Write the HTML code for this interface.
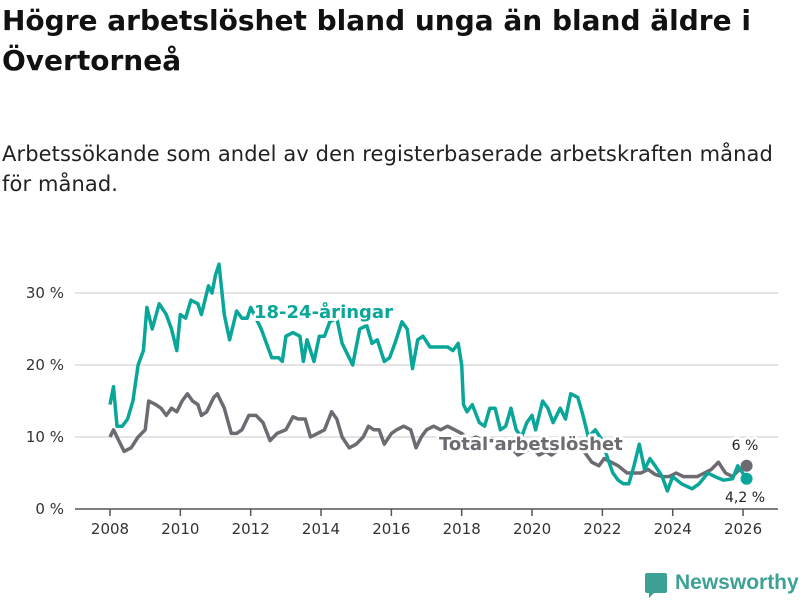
<!DOCTYPE html>
<html><head><meta charset="utf-8"><style>
body{margin:0;background:#fff;width:800px;height:600px;overflow:hidden;font-family:"DejaVu Sans","Liberation Sans",sans-serif;color:#111}
h1{position:absolute;left:2px;top:1px;margin:0;font-size:28px;line-height:40px;font-weight:bold;width:795px;letter-spacing:0px}
.sub{position:absolute;left:2px;top:139px;font-size:21px;line-height:30px;width:798px;color:#222;letter-spacing:0.1px;white-space:nowrap}
svg{position:absolute;left:0;top:0}
</style></head><body>
<h1>Högre arbetslöshet bland unga än bland äldre i Övertorneå</h1>
<div class="sub">Arbetssökande som andel av den registerbaserade arbetskraften månad<br>för månad.</div>
<svg id="c" width="800" height="600"></svg>
<script>
const yTicks=[0,10,20,30];
const yTickLabels=["0 %","10 %","20 %","30 %"];
const xTicks=[2008,2010,2012,2014,2016,2018,2020,2022,2024,2026];
const youthT=[2008.0,2008.1,2008.2,2008.35,2008.5,2008.65,2008.8,2008.95,2009.05,2009.2,2009.4,2009.6,2009.75,2009.9,2010.0,2010.15,2010.3,2010.5,2010.6,2010.8,2010.9,2011.0,2011.1,2011.25,2011.4,2011.6,2011.75,2011.9,2012.0,2012.3,2012.6,2012.8,2012.9,2013.0,2013.2,2013.4,2013.5,2013.6,2013.8,2013.95,2014.1,2014.25,2014.45,2014.6,2014.8,2014.9,2015.1,2015.3,2015.45,2015.6,2015.8,2015.95,2016.1,2016.3,2016.45,2016.6,2016.75,2016.9,2017.1,2017.4,2017.6,2017.75,2017.9,2018.0,2018.05,2018.15,2018.3,2018.5,2018.65,2018.8,2018.95,2019.1,2019.25,2019.4,2019.55,2019.7,2019.85,2020.0,2020.1,2020.3,2020.45,2020.6,2020.8,2020.95,2021.1,2021.3,2021.45,2021.6,2021.8,2022.0,2022.15,2022.3,2022.45,2022.6,2022.75,2022.9,2023.05,2023.2,2023.35,2023.5,2023.7,2023.85,2024.0,2024.25,2024.55,2024.75,2025.0,2025.2,2025.45,2025.7,2025.85,2026.1];
const youthV=[14.5,17,11.5,11.5,12.5,15,20,22,28,25,28.5,27,25,22,27,26.5,29,28.5,27,31,30,32.5,34,27,23.5,27.5,26.5,26.5,28,25,21,21,20.5,24,24.5,24,20.5,23.5,20.5,24,24,26,26.5,23,21,20,25,25.5,23,23.5,20.5,21,23,26,25,19.5,23.5,24,22.5,22.5,22.5,22,23,20,14.5,13.5,14.5,12,11.5,14,14,11,11.5,14,11,10,12,13,11,15,14,12,14,12.5,16,15.5,13,10,11,9.5,7,5,4,3.5,3.5,6,9,5.5,7,6,4.5,2.5,4.5,3.5,2.8,3.5,5,4.5,4,4.2,6,4.2];
const totalT=[2008.0,2008.1,2008.25,2008.4,2008.6,2008.8,2009.0,2009.1,2009.3,2009.45,2009.6,2009.75,2009.9,2010.05,2010.2,2010.35,2010.5,2010.6,2010.75,2010.95,2011.05,2011.25,2011.45,2011.6,2011.75,2011.95,2012.15,2012.35,2012.55,2012.75,2013.0,2013.2,2013.35,2013.55,2013.7,2013.9,2014.1,2014.3,2014.45,2014.6,2014.8,2015.0,2015.2,2015.35,2015.5,2015.65,2015.8,2016.0,2016.15,2016.35,2016.55,2016.7,2016.85,2017.0,2017.2,2017.4,2017.6,2017.8,2018.0,2018.2,2018.4,2018.6,2018.8,2019.0,2019.2,2019.4,2019.6,2019.8,2020.0,2020.2,2020.4,2020.55,2020.7,2020.85,2021.0,2021.2,2021.4,2021.55,2021.7,2021.9,2022.05,2022.25,2022.45,2022.7,2022.9,2023.1,2023.3,2023.5,2023.7,2023.9,2024.1,2024.3,2024.5,2024.7,2024.9,2025.1,2025.3,2025.5,2025.7,2025.9,2026.1];
const totalV=[10,11,9.5,8,8.5,10,11,15,14.5,14,13,14,13.5,15,16,15,14.5,13,13.5,15.5,16,14,10.5,10.5,11,13,13,12,9.5,10.5,11,12.8,12.5,12.5,10,10.5,11,13.5,12.5,10,8.5,9,10,11.5,11,11,9,10.5,11,11.5,11,8.5,10,11,11.5,11,11.5,11,10.5,9.5,10,9.5,9.5,9.5,8,8.5,7.5,8,8.5,7.5,8,7.5,8,8.5,9,9,8.5,7.5,6.5,6,7,6.5,6,5,5,5,5.5,4.8,4.5,4.5,5,4.5,4.5,4.5,5,5.5,6.5,5,4.5,5.5,6];
const X=t=>110+(t-2008)*35.17, Y=v=>509-v*7.2;
const svg=document.getElementById('c');const NS='http://www.w3.org/2000/svg';
function mk(tag,at,txt){const e=document.createElementNS(NS,tag);for(const k in at)e.setAttribute(k,at[k]);if(txt!=null)e.textContent=txt;svg.appendChild(e);return e;}
yTicks.forEach((v,i)=>{
 const g=mk('line',{x1:75,x2:778,y1:Y(v),y2:Y(v),stroke:v?'#dcdcdc':'#555','stroke-width':1.5});
 
 
 const t=mk('text',{x:64,y:Y(v)+5,'text-anchor':'end','font-size':15,fill:'#333','font-family':'DejaVu Sans, sans-serif'},yTickLabels[i]);
 
 
});
xTicks.forEach(y=>{
 const l=mk('line',{x1:X(y),x2:X(y),y1:509,y2:516,stroke:'#555','stroke-width':1.5});
 
 
 const t=mk('text',{x:X(y),y:534,'text-anchor':'middle','font-size':15,fill:'#333','font-family':'DejaVu Sans, sans-serif'},String(y));
 
 
});
function line(T,V,col,name){
 const d=T.map((t,i)=>(i?'L':'M')+X(t).toFixed(1)+' '+Y(V[i]).toFixed(1)).join(' ');
 const p=mk('path',{d:d,fill:'none',stroke:col,'stroke-width':3.5,'stroke-linejoin':'round'});
 
 
}
line(totalT,totalV,'#6d6b71','total-line');
line(youthT,youthV,'#0aa699','youth-line');
function lbl(x,y,txt,col,name,size,w,anchor){
 const t=mk('text',{x:x,y:y,'font-size':size,'font-weight':w,fill:col,stroke:'#fff','stroke-width':6,'paint-order':'stroke','stroke-linejoin':'round','text-anchor':anchor||'start','font-family':'DejaVu Sans, sans-serif'},txt);
 
 
 return t;
}
lbl(254,318,'18-24-åringar','#0aa699','youth-label',18,'bold');
lbl(439,450,'Total arbetslöshet','#6d6b71','total-label',18,'bold');
const nt=totalT.length-1,ny=youthT.length-1;
const d1=mk('circle',{cx:X(totalT[nt]),cy:Y(totalV[nt]),r:6,fill:'#6d6b71'});


const d2=mk('circle',{cx:X(youthT[ny]),cy:Y(youthV[ny]),r:6,fill:'#0aa699'});


lbl(745,Y(totalV[nt])-16,'6 %','#222','total-end-label',14,'normal','middle');
lbl(745,Y(youthV[ny])+23,'4,2 %','#222','youth-end-label',14,'normal','middle');
</script>
<div style="position:absolute;left:645px;top:570px;height:26px;display:flex;align-items:center">
 <div style="width:22px;height:20px;background:#3ea196;border-radius:2px;margin-right:8px;position:relative"><div style="position:absolute;left:4px;bottom:-5px;width:0;height:0;border-left:5px solid #3ea196;border-bottom:5px solid transparent"></div></div>
 <span style="font-size:21px;font-weight:bold;color:#3ea196;font-family:'Liberation Sans',sans-serif">Newsworthy</span>
</div>
</body></html>
